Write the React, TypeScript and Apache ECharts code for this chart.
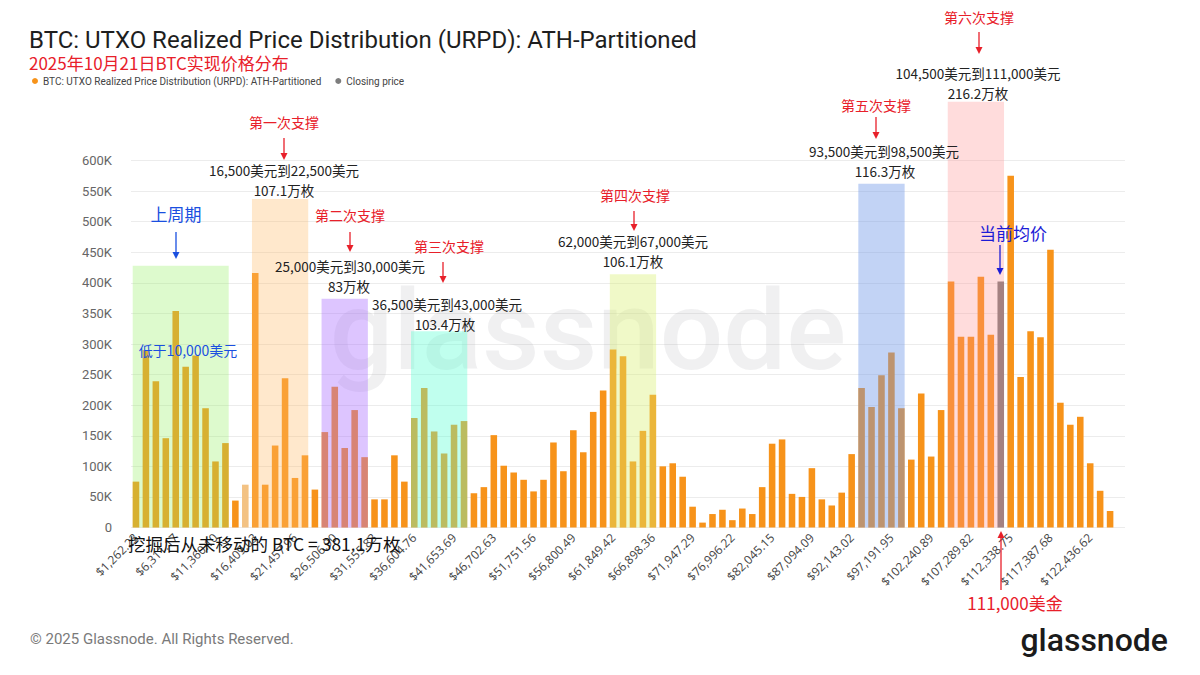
import React, { useEffect, useRef } from "react";
import * as echarts from "echarts";

// ---------- DATA ----------
const BIN_WIDTH = 1262.23315; // USD per price bucket (ATH / 100)
const BIN_COUNT = 100;
const CATEGORIES: string[] = Array.from({ length: BIN_COUNT }, (_, i) =>
  "$" + ((i + 1) * BIN_WIDTH).toLocaleString("en-US", { minimumFractionDigits: 2, maximumFractionDigits: 2 })
);

// supply per bucket, thousands of BTC
const URPD_VALUES: number[] = [
  75, 290, 239, 146, 354, 263, 281, 195, 108, 138,
  44, 70, 416, 70, 134, 244, 81, 118, 62, 156,
  230, 130, 192, 115, 46, 46, 118, 75, 179, 228,
  157, 121, 168, 174, 56, 66, 151, 101, 90, 78,
  59, 78, 139, 92, 159, 123, 189, 224, 291, 280,
  108, 158, 217, 100, 105, 83, 34, 8, 22, 29,
  12, 31, 22, 66, 137, 144, 55, 50, 97, 46,
  36, 57, 120, 228, 197, 249, 286, 195, 111, 219,
  116, 192, 402, 312, 312, 410, 315, 402, 575, 246,
  321, 311, 454, 204, 168, 181, 105, 60, 27, 0,
];
const CLOSING_BIN = 87;
const PALE_BIN = 11;

const SERIES_URPD = "BTC: UTXO Realized Price Distribution (URPD): ATH-Partitioned";
const SERIES_CLOSE = "Closing price";

// highlighted support zones: first bucket, last bucket, height (K BTC)
const ZONE_FROM = [0, 12, 19, 28, 48, 73, 82];
const ZONE_TO = [9, 17, 23, 33, 52, 77, 87];
const ZONE_TOP = [428, 537, 374, 321, 414, 562, 696];

// ---------- STYLE / LAYOUT ----------
const ZONE_COLORS = [
  "rgba(150,240,100,0.32)",
  "rgba(255,190,110,0.35)",
  "rgba(170,110,255,0.40)",
  "rgba(90,255,210,0.38)",
  "rgba(215,240,110,0.38)",
  "rgba(110,150,230,0.42)",
  "rgba(255,140,140,0.30)",
];
const ORANGE = "#F7931A";
const GREY = "#7d7d7d";
const RED = "#e8202a";
const BLUE = "#1a4fe0";
const DBLUE = "#1c1cd6";
const CJK = "'Noto Sans CJK SC', 'Noto Sans', sans-serif";

type Ann = { t: string; x: number; y: number; c: string; s: number };
const ANNOTATIONS: Ann[] = [
  { t: "上周期", x: 176, y: 213, c: BLUE, s: 17 },
  { t: "低于10,000美元", x: 188, y: 350, c: BLUE, s: 14 },
  { t: "第一次支撑", x: 284, y: 122, c: RED, s: 14 },
  { t: "16,500美元到22,500美元", x: 284, y: 170, c: "#222", s: 13.5 },
  { t: "107.1万枚", x: 284, y: 190, c: "#222", s: 13.5 },
  { t: "第二次支撑", x: 350, y: 215, c: RED, s: 14 },
  { t: "25,000美元到30,000美元", x: 350, y: 266, c: "#222", s: 13.5 },
  { t: "83万枚", x: 349, y: 286, c: "#222", s: 13.5 },
  { t: "第三次支撑", x: 449, y: 246, c: RED, s: 14 },
  { t: "36,500美元到43,000美元", x: 447, y: 304, c: "#222", s: 13.5 },
  { t: "103.4万枚", x: 445, y: 324, c: "#222", s: 13.5 },
  { t: "第四次支撑", x: 635, y: 195, c: RED, s: 14 },
  { t: "62,000美元到67,000美元", x: 633, y: 241, c: "#222", s: 13.5 },
  { t: "106.1万枚", x: 633, y: 261, c: "#222", s: 13.5 },
  { t: "第五次支撑", x: 876, y: 105, c: RED, s: 14 },
  { t: "93,500美元到98,500美元", x: 884, y: 151, c: "#222", s: 13.5 },
  { t: "116.3万枚", x: 885, y: 171, c: "#222", s: 13.5 },
  { t: "第六次支撑", x: 979, y: 17, c: RED, s: 14 },
  { t: "104,500美元到111,000美元", x: 978, y: 73, c: "#222", s: 13.5 },
  { t: "216.2万枚", x: 978, y: 93, c: "#222", s: 13.5 },
  { t: "当前均价", x: 1013, y: 232, c: DBLUE, s: 17 },
  { t: "111,000美金", x: 1015, y: 602, c: RED, s: 17 },
];

type Arr = { x: number; y1: number; y2: number; c: string };
const ARROWS: Arr[] = [
  { x: 176, y1: 232, y2: 259, c: BLUE },
  { x: 284, y1: 138, y2: 160, c: RED },
  { x: 350, y1: 232, y2: 252, c: RED },
  { x: 443, y1: 262, y2: 283, c: RED },
  { x: 634, y1: 211, y2: 231, c: RED },
  { x: 876, y1: 117, y2: 139, c: RED },
  { x: 979, y1: 32, y2: 54, c: RED },
  { x: 1000, y1: 245, y2: 275, c: DBLUE },
  { x: 1001, y1: 590, y2: 531, c: RED },
];

function arrowEls(a: Arr) {
  const dir = a.y2 > a.y1 ? 1 : -1;
  const head = 7;
  return [
    {
      type: "line",
      z: 30,
      shape: { x1: a.x, y1: a.y1, x2: a.x, y2: a.y2 - dir * head },
      style: { stroke: a.c, lineWidth: 1.3 },
    },
    {
      type: "polygon",
      z: 30,
      shape: { points: [[a.x - 3.5, a.y2 - dir * head], [a.x + 3.5, a.y2 - dir * head], [a.x, a.y2]] },
      style: { fill: a.c },
    },
  ];
}

export default function App() {
  const ref = useRef<HTMLDivElement>(null);

  useEffect(() => {
    if (!ref.current) return;
    const chart = echarts.init(ref.current, null, { renderer: "svg" });

    const urpdData = URPD_VALUES.map((v, i) =>
      i === CLOSING_BIN ? "-" : i === PALE_BIN ? { value: v, itemStyle: { color: "#F3C283" } } : v
    );
    const closeData = URPD_VALUES.map((v, i) => (i === CLOSING_BIN ? v : "-"));

    chart.setOption({
      animation: false,
      backgroundColor: "#ffffff",
      title: {
        text: "BTC: UTXO Realized Price Distribution (URPD): ATH-Partitioned",
        subtext: "2025年10月21日BTC实现价格分布",
        left: 29,
        top: 28,
        itemGap: 2,
        padding: 0,
        textStyle: { fontFamily: "Roboto, sans-serif", fontSize: 24, fontWeight: "normal", color: "#1e1e1e" },
        subtextStyle: { fontFamily: CJK, fontSize: 17, color: RED },
      },
      legend: {
        left: 32,
        top: 76,
        icon: "circle",
        itemWidth: 6,
        itemHeight: 6,
        itemGap: 14,
        padding: 0,
        textStyle: { fontFamily: "Roboto, sans-serif", fontSize: 10, color: "#444" },
        data: [SERIES_URPD, SERIES_CLOSE],
      },
      grid: { left: 131, right: 75, top: 160.5, bottom: 147.5, containLabel: false },
      xAxis: {
        type: "category",
        data: CATEGORIES,
        axisLine: { show: false },
        axisTick: { show: false },
        axisLabel: {
          interval: 3,
          rotate: 45,
          margin: 8,
          fontFamily: "'Open Sans', Roboto, sans-serif",
          fontSize: 12,
          color: "#444",
        },
      },
      yAxis: {
        type: "value",
        min: 0,
        max: 600,
        interval: 50,
        axisLine: { show: false },
        axisTick: { show: false },
        axisLabel: {
          fontFamily: "Roboto, sans-serif",
          fontSize: 13,
          color: "#666",
          margin: 19,
          formatter: (v: number) => (v === 0 ? "0" : v + "K"),
        },
        splitLine: { lineStyle: { color: "#ececec", width: 1 } },
      },
      series: [
        {
          name: SERIES_URPD,
          type: "bar",
          data: urpdData,
          barWidth: "66%",
          barGap: "-100%",
          itemStyle: { color: ORANGE },
        },
        {
          name: SERIES_CLOSE,
          type: "bar",
          data: closeData,
          barWidth: "66%",
          barGap: "-100%",
          itemStyle: { color: GREY },
        },
      ],
    });

    // zone rectangles positioned through the chart's own scales
    const p0 = chart.convertToPixel({ gridIndex: 0 }, [0, 0]) as number[];
    const p1 = chart.convertToPixel({ gridIndex: 0 }, [1, 0]) as number[];
    const band = p1[0] - p0[0];
    const halfBar = (band * 0.66) / 2;
    const zones = ZONE_FROM.map((from, k) => {
      const a = chart.convertToPixel({ gridIndex: 0 }, [from, ZONE_TOP[k]]) as number[];
      const b = chart.convertToPixel({ gridIndex: 0 }, [ZONE_TO[k], 0]) as number[];
      const x = a[0] - halfBar;
      return {
        type: "rect",
        z: 10,
        silent: true,
        shape: { x, y: a[1], width: b[0] + halfBar - x, height: b[1] - a[1] },
        style: { fill: ZONE_COLORS[k] },
      };
    });

    const texts = ANNOTATIONS.map((a) => ({
      type: "text",
      z: 30,
      style: {
        text: a.t,
        x: a.x,
        y: a.y,
        fill: a.c,
        font: `${a.s}px ${CJK}`,
        textAlign: "center",
        textVerticalAlign: "middle",
      },
    }));

    chart.setOption({
      graphic: [
        {
          type: "text",
          z: 0,
          silent: true,
          style: {
            text: "glassnode",
            x: 588,
            y: 330,
            fill: "rgba(170,170,180,0.18)",
            font: "500 112px Roboto, sans-serif",
            textAlign: "center",
            textVerticalAlign: "middle",
          },
        },
        ...zones,
        ...texts,
        ...ARROWS.flatMap(arrowEls),
        {
          type: "text",
          z: 30,
          style: {
            text: "挖掘后从未移动的 BTC = 381.1万枚",
            x: 128,
            y: 543,
            fill: "#111",
            font: `17.5px ${CJK}`,
            textAlign: "left",
            textVerticalAlign: "middle",
          },
        },
        {
          type: "text",
          z: 30,
          style: {
            text: "© 2025 Glassnode. All Rights Reserved.",
            x: 30,
            y: 639,
            fill: "#7a7a7a",
            font: "15px Roboto, sans-serif",
            textAlign: "left",
            textVerticalAlign: "middle",
          },
        },
        {
          type: "text",
          z: 30,
          style: {
            text: "glassnode",
            x: 1168,
            y: 640,
            fill: "#1b1b1b",
            font: "500 32px Roboto, sans-serif",
            textAlign: "right",
            textVerticalAlign: "middle",
          },
        },
      ],
    });

    return () => chart.dispose();
  }, []);

  return (
    <div
      ref={ref}
      style={{ position: "fixed", left: 0, top: 0, width: 1200, height: 675, background: "#fff" }}
    />
  );
}
